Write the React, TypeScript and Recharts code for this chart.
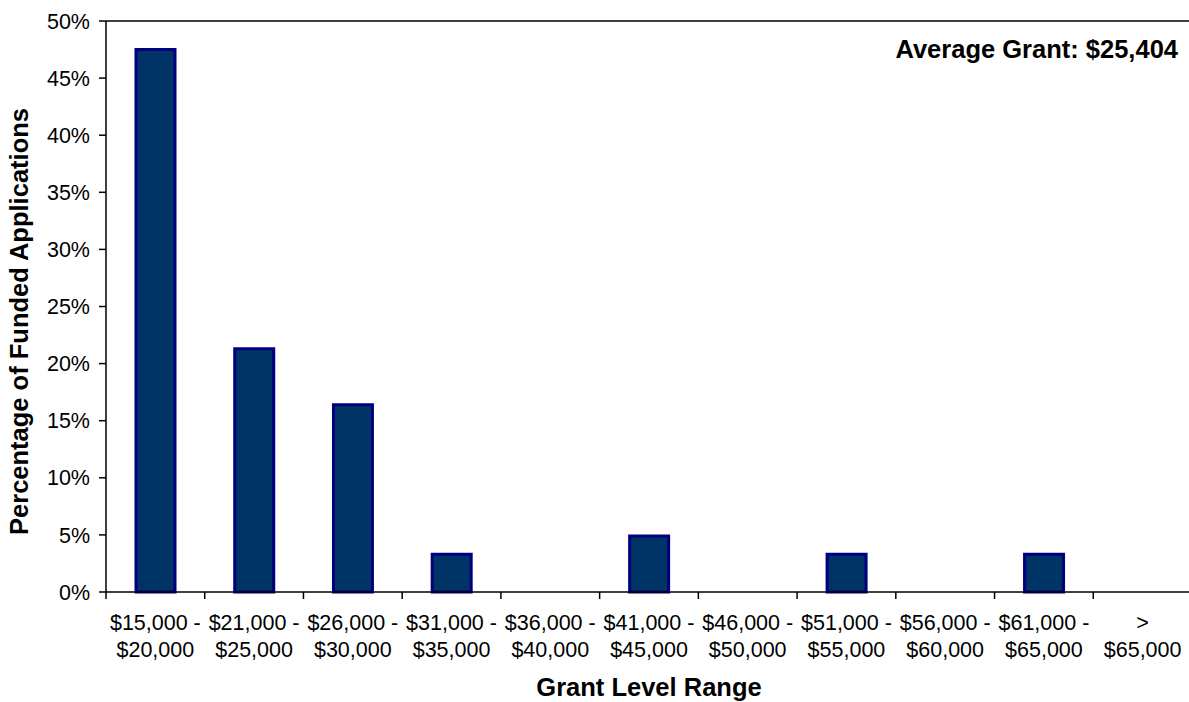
import { BarChart, Bar, XAxis, YAxis, ReferenceLine } from 'recharts';

const rangeStarts = ['$15,000 -', '$21,000 -', '$26,000 -', '$31,000 -', '$36,000 -', '$41,000 -', '$46,000 -', '$51,000 -', '$56,000 -', '$61,000 -', '>'];
const rangeEnds = ['$20,000', '$25,000', '$30,000', '$35,000', '$40,000', '$45,000', '$50,000', '$55,000', '$60,000', '$65,000', '$65,000'];
const percentFunded = [47.5, 21.3, 16.4, 3.3, 0, 4.9, 0, 3.3, 0, 3.3, 0];
const yTicks = [0, 5, 10, 15, 20, 25, 30, 35, 40, 45, 50];

const FONT = '"Liberation Sans", Arial, sans-serif';
const W = 1192;
const H = 702;
const TOP = 21;
const Y_AXIS_W = 106;
const X_AXIS_H = 110;
const BAND = (W - Y_AXIS_W) / rangeStarts.length;

const rows = rangeStarts.map((start, i) => ({
  range: `${start}|${rangeEnds[i]}`,
  pct: percentFunded[i]
}));

function RangeTick({ x, y, payload }: any) {
  const [a, b] = String(payload.value).split('|');
  const left = x - BAND / 2;
  return (
    <g>
      <line x1={left} y1={y} x2={left} y2={y + 7} stroke="#000" strokeWidth={1.5} />
      <text x={x} y={y + 38} textAnchor="middle" fontSize={21.5} fill="#000" fontFamily={FONT}>{a}</text>
      <text x={x} y={y + 65} textAnchor="middle" fontSize={21.5} fill="#000" fontFamily={FONT}>{b}</text>
    </g>
  );
}

export default function App() {
  return (
    <div style={{ position: 'absolute', left: 0, top: 0, width: 1189, height: H, overflow: 'hidden', background: '#fff' }}>
      <BarChart width={W} height={H} data={rows} margin={{ top: TOP, right: 0, left: 0, bottom: 0 }} barSize={39}>
        <XAxis
          dataKey="range"
          height={X_AXIS_H}
          interval={0}
          tickLine={false}
          tickSize={0}
          tickMargin={0}
          axisLine={{ stroke: '#000', strokeWidth: 1.5 }}
          tick={<RangeTick />}
          label={{ value: 'Grant Level Range', position: 'insideBottom', offset: 6, fontSize: 25.5, fontWeight: 'bold', fill: '#000', fontFamily: FONT }}
        />
        <YAxis
          width={Y_AXIS_W}
          domain={[0, 50]}
          ticks={yTicks}
          interval={0}
          tickFormatter={(v: number) => `${v}%`}
          tickSize={7}
          tickMargin={9}
          tick={{ fontSize: 21.5, fill: '#000', fontFamily: FONT }}
          tickLine={{ stroke: '#000', strokeWidth: 1.5 }}
          axisLine={{ stroke: '#000', strokeWidth: 1.5 }}
          label={{
            content: ({ viewBox }: any) => (
              <text
                x={19}
                y={viewBox.y + viewBox.height / 2 + 15}
                transform={`rotate(-90, 19, ${viewBox.y + viewBox.height / 2 + 15})`}
                textAnchor="middle"
                dominantBaseline="central"
                fontSize={25.5}
                fontWeight="bold"
                fill="#000"
                fontFamily={FONT}
              >
                Percentage of Funded Applications
              </text>
            )
          }}
        />
        <ReferenceLine
          y={50}
          stroke="#000"
          strokeWidth={1.5}
          label={{
            content: ({ viewBox }: any) => (
              <text
                x={viewBox.x + viewBox.width - 14}
                y={viewBox.y + 37}
                textAnchor="end"
                fontSize={25.5}
                fontWeight="bold"
                fill="#000"
                fontFamily={FONT}
              >
                Average Grant: $25,404
              </text>
            )
          }}
        />
        <Bar dataKey="pct" fill="#003366" stroke="#000080" strokeWidth={3} isAnimationActive={false} />
      </BarChart>
    </div>
  );
}
